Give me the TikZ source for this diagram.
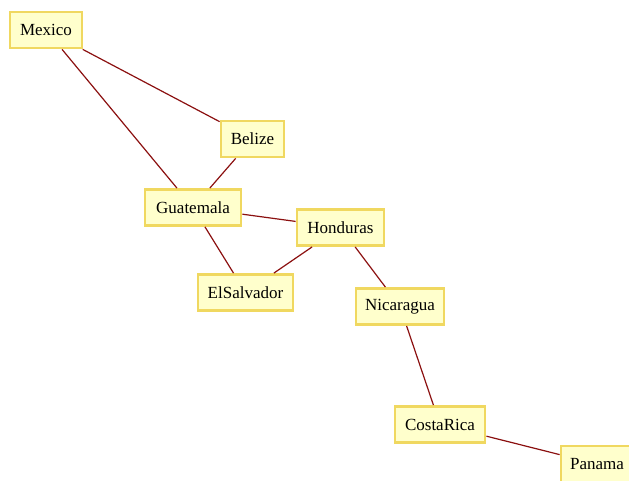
\documentclass[tikz,border=0pt]{standalone}
\usepackage{fontspec}
\setmainfont{Liberation Serif}
\definecolor{boxfill}{HTML}{FFFFCC}
\definecolor{boxline}{HTML}{F0D860}
\definecolor{edgecol}{HTML}{8B1010}
\begin{document}
\begin{tikzpicture}[x=1pt,y=-1pt,
  country/.style={draw=boxline,fill=boxfill,line width=2.8pt,minimum height=36pt,inner sep=0pt,font=\fontsize{17}{19}\selectfont},
  link/.style={draw=edgecol,line width=1.2pt}]
\useasboundingbox (0,0) rectangle (629,481);
\begin{scope}
\clip (0,0) rectangle (629,481);
\node[country,minimum width=72pt] (mex) at (46,30) {Mexico};
\node[country,minimum width=63pt] (bel) at (252.5,139) {Belize};
\node[country,minimum width=96pt] (gua) at (193,207.5) {Guatemala};
\node[country,minimum width=87pt] (hon) at (340.5,227.5) {Honduras};
\node[country,minimum width=95pt] (els) at (245.5,292.5) {ElSalvador};
\node[country,minimum width=88pt] (nic) at (400,306.5) {Nicaragua};
\node[country,minimum width=90pt] (cos) at (440,424.5) {CostaRica};
\node[country,minimum width=72pt] (pan) at (597,464) {Panama};
\draw[link] (mex) -- (bel);
\draw[link] (mex) -- (gua);
\draw[link] (bel) -- (gua);
\draw[link] (gua) -- (hon);
\draw[link] (gua) -- (els);
\draw[link] (hon) -- (els);
\draw[link] (hon) -- (nic);
\draw[link] (nic) -- (cos);
\draw[link] (cos) -- (pan);
\end{scope}
\end{tikzpicture}
\end{document}
